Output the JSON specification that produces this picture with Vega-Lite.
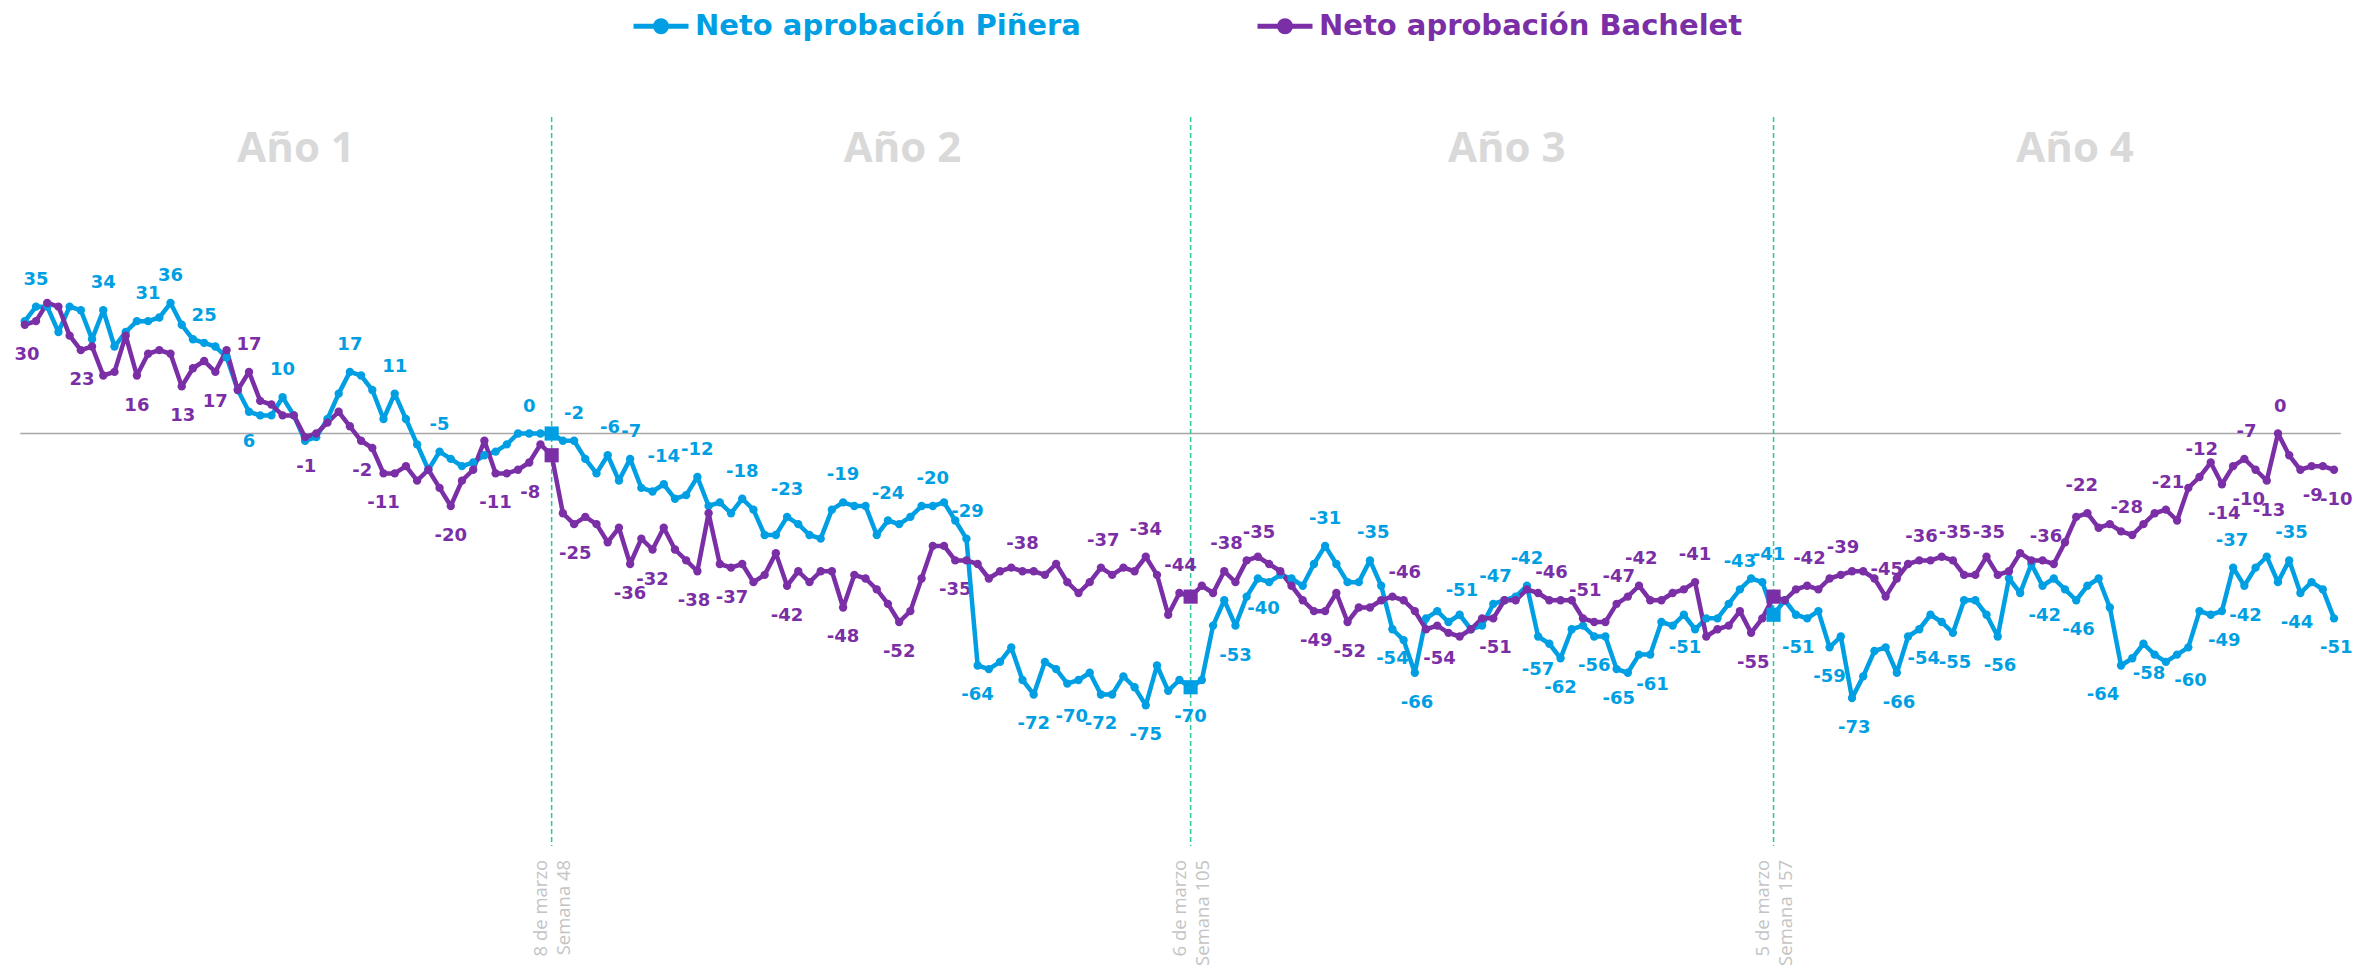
{
"$schema":"https://vega.github.io/schema/vega-lite/v6.json",
"width":2356,"height":973,"autosize":{"type":"none"},"padding":0,"background":"#ffffff",
"config":{"view":{"stroke":null}},
"datasets":{
"series":[
{"w":1,"Neto aprobación Piñera":31,"Neto aprobación Bachelet":30},{"w":2,"Neto aprobación Piñera":35,"Neto aprobación Bachelet":31},{"w":3,"Neto aprobación Piñera":35,"Neto aprobación Bachelet":36},{"w":4,"Neto aprobación Piñera":28,"Neto aprobación Bachelet":35},{"w":5,"Neto aprobación Piñera":35,"Neto aprobación Bachelet":27},{"w":6,"Neto aprobación Piñera":34,"Neto aprobación Bachelet":23},{"w":7,"Neto aprobación Piñera":26,"Neto aprobación Bachelet":24},{"w":8,"Neto aprobación Piñera":34,"Neto aprobación Bachelet":16},{"w":9,"Neto aprobación Piñera":24,"Neto aprobación Bachelet":17},{"w":10,"Neto aprobación Piñera":28,"Neto aprobación Bachelet":27},
{"w":11,"Neto aprobación Piñera":31,"Neto aprobación Bachelet":16},{"w":12,"Neto aprobación Piñera":31,"Neto aprobación Bachelet":22},{"w":13,"Neto aprobación Piñera":32,"Neto aprobación Bachelet":23},{"w":14,"Neto aprobación Piñera":36,"Neto aprobación Bachelet":22},{"w":15,"Neto aprobación Piñera":30,"Neto aprobación Bachelet":13},{"w":16,"Neto aprobación Piñera":26,"Neto aprobación Bachelet":18},{"w":17,"Neto aprobación Piñera":25,"Neto aprobación Bachelet":20},{"w":18,"Neto aprobación Piñera":24,"Neto aprobación Bachelet":17},{"w":19,"Neto aprobación Piñera":21,"Neto aprobación Bachelet":23},{"w":20,"Neto aprobación Piñera":12,"Neto aprobación Bachelet":12},
{"w":21,"Neto aprobación Piñera":6,"Neto aprobación Bachelet":17},{"w":22,"Neto aprobación Piñera":5,"Neto aprobación Bachelet":9},{"w":23,"Neto aprobación Piñera":5,"Neto aprobación Bachelet":8},{"w":24,"Neto aprobación Piñera":10,"Neto aprobación Bachelet":5},{"w":25,"Neto aprobación Piñera":5,"Neto aprobación Bachelet":5},{"w":26,"Neto aprobación Piñera":-2,"Neto aprobación Bachelet":-1},{"w":27,"Neto aprobación Piñera":-1,"Neto aprobación Bachelet":0},{"w":28,"Neto aprobación Piñera":4,"Neto aprobación Bachelet":3},{"w":29,"Neto aprobación Piñera":11,"Neto aprobación Bachelet":6},{"w":30,"Neto aprobación Piñera":17,"Neto aprobación Bachelet":2},
{"w":31,"Neto aprobación Piñera":16,"Neto aprobación Bachelet":-2},{"w":32,"Neto aprobación Piñera":12,"Neto aprobación Bachelet":-4},{"w":33,"Neto aprobación Piñera":4,"Neto aprobación Bachelet":-11},{"w":34,"Neto aprobación Piñera":11,"Neto aprobación Bachelet":-11},{"w":35,"Neto aprobación Piñera":4,"Neto aprobación Bachelet":-9},{"w":36,"Neto aprobación Piñera":-3,"Neto aprobación Bachelet":-13},{"w":37,"Neto aprobación Piñera":-10,"Neto aprobación Bachelet":-10},{"w":38,"Neto aprobación Piñera":-5,"Neto aprobación Bachelet":-15},{"w":39,"Neto aprobación Piñera":-7,"Neto aprobación Bachelet":-20},{"w":40,"Neto aprobación Piñera":-9,"Neto aprobación Bachelet":-13},
{"w":41,"Neto aprobación Piñera":-8,"Neto aprobación Bachelet":-10},{"w":42,"Neto aprobación Piñera":-6,"Neto aprobación Bachelet":-2},{"w":43,"Neto aprobación Piñera":-5,"Neto aprobación Bachelet":-11},{"w":44,"Neto aprobación Piñera":-3,"Neto aprobación Bachelet":-11},{"w":45,"Neto aprobación Piñera":0,"Neto aprobación Bachelet":-10},{"w":46,"Neto aprobación Piñera":0,"Neto aprobación Bachelet":-8},{"w":47,"Neto aprobación Piñera":0,"Neto aprobación Bachelet":-3},{"w":48,"Neto aprobación Piñera":0,"Neto aprobación Bachelet":-6},{"w":49,"Neto aprobación Piñera":-2,"Neto aprobación Bachelet":-22},{"w":50,"Neto aprobación Piñera":-2,"Neto aprobación Bachelet":-25},
{"w":51,"Neto aprobación Piñera":-7,"Neto aprobación Bachelet":-23},{"w":52,"Neto aprobación Piñera":-11,"Neto aprobación Bachelet":-25},{"w":53,"Neto aprobación Piñera":-6,"Neto aprobación Bachelet":-30},{"w":54,"Neto aprobación Piñera":-13,"Neto aprobación Bachelet":-26},{"w":55,"Neto aprobación Piñera":-7,"Neto aprobación Bachelet":-36},{"w":56,"Neto aprobación Piñera":-15,"Neto aprobación Bachelet":-29},{"w":57,"Neto aprobación Piñera":-16,"Neto aprobación Bachelet":-32},{"w":58,"Neto aprobación Piñera":-14,"Neto aprobación Bachelet":-26},{"w":59,"Neto aprobación Piñera":-18,"Neto aprobación Bachelet":-32},{"w":60,"Neto aprobación Piñera":-17,"Neto aprobación Bachelet":-35},
{"w":61,"Neto aprobación Piñera":-12,"Neto aprobación Bachelet":-38},{"w":62,"Neto aprobación Piñera":-20,"Neto aprobación Bachelet":-22},{"w":63,"Neto aprobación Piñera":-19,"Neto aprobación Bachelet":-36},{"w":64,"Neto aprobación Piñera":-22,"Neto aprobación Bachelet":-37},{"w":65,"Neto aprobación Piñera":-18,"Neto aprobación Bachelet":-36},{"w":66,"Neto aprobación Piñera":-21,"Neto aprobación Bachelet":-41},{"w":67,"Neto aprobación Piñera":-28,"Neto aprobación Bachelet":-39},{"w":68,"Neto aprobación Piñera":-28,"Neto aprobación Bachelet":-33},{"w":69,"Neto aprobación Piñera":-23,"Neto aprobación Bachelet":-42},{"w":70,"Neto aprobación Piñera":-25,"Neto aprobación Bachelet":-38},
{"w":71,"Neto aprobación Piñera":-28,"Neto aprobación Bachelet":-41},{"w":72,"Neto aprobación Piñera":-29,"Neto aprobación Bachelet":-38},{"w":73,"Neto aprobación Piñera":-21,"Neto aprobación Bachelet":-38},{"w":74,"Neto aprobación Piñera":-19,"Neto aprobación Bachelet":-48},{"w":75,"Neto aprobación Piñera":-20,"Neto aprobación Bachelet":-39},{"w":76,"Neto aprobación Piñera":-20,"Neto aprobación Bachelet":-40},{"w":77,"Neto aprobación Piñera":-28,"Neto aprobación Bachelet":-43},{"w":78,"Neto aprobación Piñera":-24,"Neto aprobación Bachelet":-47},{"w":79,"Neto aprobación Piñera":-25,"Neto aprobación Bachelet":-52},{"w":80,"Neto aprobación Piñera":-23,"Neto aprobación Bachelet":-49},
{"w":81,"Neto aprobación Piñera":-20,"Neto aprobación Bachelet":-40},{"w":82,"Neto aprobación Piñera":-20,"Neto aprobación Bachelet":-31},{"w":83,"Neto aprobación Piñera":-19,"Neto aprobación Bachelet":-31},{"w":84,"Neto aprobación Piñera":-24,"Neto aprobación Bachelet":-35},{"w":85,"Neto aprobación Piñera":-29,"Neto aprobación Bachelet":-35},{"w":86,"Neto aprobación Piñera":-64,"Neto aprobación Bachelet":-36},{"w":87,"Neto aprobación Piñera":-65,"Neto aprobación Bachelet":-40},{"w":88,"Neto aprobación Piñera":-63,"Neto aprobación Bachelet":-38},{"w":89,"Neto aprobación Piñera":-59,"Neto aprobación Bachelet":-37},{"w":90,"Neto aprobación Piñera":-68,"Neto aprobación Bachelet":-38},
{"w":91,"Neto aprobación Piñera":-72,"Neto aprobación Bachelet":-38},{"w":92,"Neto aprobación Piñera":-63,"Neto aprobación Bachelet":-39},{"w":93,"Neto aprobación Piñera":-65,"Neto aprobación Bachelet":-36},{"w":94,"Neto aprobación Piñera":-69,"Neto aprobación Bachelet":-41},{"w":95,"Neto aprobación Piñera":-68,"Neto aprobación Bachelet":-44},{"w":96,"Neto aprobación Piñera":-66,"Neto aprobación Bachelet":-41},{"w":97,"Neto aprobación Piñera":-72,"Neto aprobación Bachelet":-37},{"w":98,"Neto aprobación Piñera":-72,"Neto aprobación Bachelet":-39},{"w":99,"Neto aprobación Piñera":-67,"Neto aprobación Bachelet":-37},{"w":100,"Neto aprobación Piñera":-70,"Neto aprobación Bachelet":-38},
{"w":101,"Neto aprobación Piñera":-75,"Neto aprobación Bachelet":-34},{"w":102,"Neto aprobación Piñera":-64,"Neto aprobación Bachelet":-39},{"w":103,"Neto aprobación Piñera":-71,"Neto aprobación Bachelet":-50},{"w":104,"Neto aprobación Piñera":-68,"Neto aprobación Bachelet":-44},{"w":105,"Neto aprobación Piñera":-70,"Neto aprobación Bachelet":-45},{"w":106,"Neto aprobación Piñera":-68,"Neto aprobación Bachelet":-42},{"w":107,"Neto aprobación Piñera":-53,"Neto aprobación Bachelet":-44},{"w":108,"Neto aprobación Piñera":-46,"Neto aprobación Bachelet":-38},{"w":109,"Neto aprobación Piñera":-53,"Neto aprobación Bachelet":-41},{"w":110,"Neto aprobación Piñera":-45,"Neto aprobación Bachelet":-35},
{"w":111,"Neto aprobación Piñera":-40,"Neto aprobación Bachelet":-34},{"w":112,"Neto aprobación Piñera":-41,"Neto aprobación Bachelet":-36},{"w":113,"Neto aprobación Piñera":-39,"Neto aprobación Bachelet":-38},{"w":114,"Neto aprobación Piñera":-40,"Neto aprobación Bachelet":-42},{"w":115,"Neto aprobación Piñera":-42,"Neto aprobación Bachelet":-46},{"w":116,"Neto aprobación Piñera":-36,"Neto aprobación Bachelet":-49},{"w":117,"Neto aprobación Piñera":-31,"Neto aprobación Bachelet":-49},{"w":118,"Neto aprobación Piñera":-36,"Neto aprobación Bachelet":-44},{"w":119,"Neto aprobación Piñera":-41,"Neto aprobación Bachelet":-52},{"w":120,"Neto aprobación Piñera":-41,"Neto aprobación Bachelet":-48},
{"w":121,"Neto aprobación Piñera":-35,"Neto aprobación Bachelet":-48},{"w":122,"Neto aprobación Piñera":-42,"Neto aprobación Bachelet":-46},{"w":123,"Neto aprobación Piñera":-54,"Neto aprobación Bachelet":-45},{"w":124,"Neto aprobación Piñera":-57,"Neto aprobación Bachelet":-46},{"w":125,"Neto aprobación Piñera":-66,"Neto aprobación Bachelet":-49},{"w":126,"Neto aprobación Piñera":-51,"Neto aprobación Bachelet":-54},{"w":127,"Neto aprobación Piñera":-49,"Neto aprobación Bachelet":-53},{"w":128,"Neto aprobación Piñera":-52,"Neto aprobación Bachelet":-55},{"w":129,"Neto aprobación Piñera":-50,"Neto aprobación Bachelet":-56},{"w":130,"Neto aprobación Piñera":-54,"Neto aprobación Bachelet":-54},
{"w":131,"Neto aprobación Piñera":-53,"Neto aprobación Bachelet":-51},{"w":132,"Neto aprobación Piñera":-47,"Neto aprobación Bachelet":-51},{"w":133,"Neto aprobación Piñera":-46,"Neto aprobación Bachelet":-46},{"w":134,"Neto aprobación Piñera":-45,"Neto aprobación Bachelet":-46},{"w":135,"Neto aprobación Piñera":-42,"Neto aprobación Bachelet":-43},{"w":136,"Neto aprobación Piñera":-56,"Neto aprobación Bachelet":-44},{"w":137,"Neto aprobación Piñera":-58,"Neto aprobación Bachelet":-46},{"w":138,"Neto aprobación Piñera":-62,"Neto aprobación Bachelet":-46},{"w":139,"Neto aprobación Piñera":-54,"Neto aprobación Bachelet":-46},{"w":140,"Neto aprobación Piñera":-53,"Neto aprobación Bachelet":-51},
{"w":141,"Neto aprobación Piñera":-56,"Neto aprobación Bachelet":-52},{"w":142,"Neto aprobación Piñera":-56,"Neto aprobación Bachelet":-52},{"w":143,"Neto aprobación Piñera":-65,"Neto aprobación Bachelet":-47},{"w":144,"Neto aprobación Piñera":-66,"Neto aprobación Bachelet":-45},{"w":145,"Neto aprobación Piñera":-61,"Neto aprobación Bachelet":-42},{"w":146,"Neto aprobación Piñera":-61,"Neto aprobación Bachelet":-46},{"w":147,"Neto aprobación Piñera":-52,"Neto aprobación Bachelet":-46},{"w":148,"Neto aprobación Piñera":-53,"Neto aprobación Bachelet":-44},{"w":149,"Neto aprobación Piñera":-50,"Neto aprobación Bachelet":-43},{"w":150,"Neto aprobación Piñera":-54,"Neto aprobación Bachelet":-41},
{"w":151,"Neto aprobación Piñera":-51,"Neto aprobación Bachelet":-56},{"w":152,"Neto aprobación Piñera":-51,"Neto aprobación Bachelet":-54},{"w":153,"Neto aprobación Piñera":-47,"Neto aprobación Bachelet":-53},{"w":154,"Neto aprobación Piñera":-43,"Neto aprobación Bachelet":-49},{"w":155,"Neto aprobación Piñera":-40,"Neto aprobación Bachelet":-55},{"w":156,"Neto aprobación Piñera":-41,"Neto aprobación Bachelet":-51},{"w":157,"Neto aprobación Piñera":-50,"Neto aprobación Bachelet":-45},{"w":158,"Neto aprobación Piñera":-46,"Neto aprobación Bachelet":-46},{"w":159,"Neto aprobación Piñera":-50,"Neto aprobación Bachelet":-43},{"w":160,"Neto aprobación Piñera":-51,"Neto aprobación Bachelet":-42},
{"w":161,"Neto aprobación Piñera":-49,"Neto aprobación Bachelet":-43},{"w":162,"Neto aprobación Piñera":-59,"Neto aprobación Bachelet":-40},{"w":163,"Neto aprobación Piñera":-56,"Neto aprobación Bachelet":-39},{"w":164,"Neto aprobación Piñera":-73,"Neto aprobación Bachelet":-38},{"w":165,"Neto aprobación Piñera":-67,"Neto aprobación Bachelet":-38},{"w":166,"Neto aprobación Piñera":-60,"Neto aprobación Bachelet":-40},{"w":167,"Neto aprobación Piñera":-59,"Neto aprobación Bachelet":-45},{"w":168,"Neto aprobación Piñera":-66,"Neto aprobación Bachelet":-40},{"w":169,"Neto aprobación Piñera":-56,"Neto aprobación Bachelet":-36},{"w":170,"Neto aprobación Piñera":-54,"Neto aprobación Bachelet":-35},
{"w":171,"Neto aprobación Piñera":-50,"Neto aprobación Bachelet":-35},{"w":172,"Neto aprobación Piñera":-52,"Neto aprobación Bachelet":-34},{"w":173,"Neto aprobación Piñera":-55,"Neto aprobación Bachelet":-35},{"w":174,"Neto aprobación Piñera":-46,"Neto aprobación Bachelet":-39},{"w":175,"Neto aprobación Piñera":-46,"Neto aprobación Bachelet":-39},{"w":176,"Neto aprobación Piñera":-50,"Neto aprobación Bachelet":-34},{"w":177,"Neto aprobación Piñera":-56,"Neto aprobación Bachelet":-39},{"w":178,"Neto aprobación Piñera":-40,"Neto aprobación Bachelet":-38},{"w":179,"Neto aprobación Piñera":-44,"Neto aprobación Bachelet":-33},{"w":180,"Neto aprobación Piñera":-36,"Neto aprobación Bachelet":-35},
{"w":181,"Neto aprobación Piñera":-42,"Neto aprobación Bachelet":-35},{"w":182,"Neto aprobación Piñera":-40,"Neto aprobación Bachelet":-36},{"w":183,"Neto aprobación Piñera":-43,"Neto aprobación Bachelet":-30},{"w":184,"Neto aprobación Piñera":-46,"Neto aprobación Bachelet":-23},{"w":185,"Neto aprobación Piñera":-42,"Neto aprobación Bachelet":-22},{"w":186,"Neto aprobación Piñera":-40,"Neto aprobación Bachelet":-26},{"w":187,"Neto aprobación Piñera":-48,"Neto aprobación Bachelet":-25},{"w":188,"Neto aprobación Piñera":-64,"Neto aprobación Bachelet":-27},{"w":189,"Neto aprobación Piñera":-62,"Neto aprobación Bachelet":-28},{"w":190,"Neto aprobación Piñera":-58,"Neto aprobación Bachelet":-25},
{"w":191,"Neto aprobación Piñera":-61,"Neto aprobación Bachelet":-22},{"w":192,"Neto aprobación Piñera":-63,"Neto aprobación Bachelet":-21},{"w":193,"Neto aprobación Piñera":-61,"Neto aprobación Bachelet":-24},{"w":194,"Neto aprobación Piñera":-59,"Neto aprobación Bachelet":-15},{"w":195,"Neto aprobación Piñera":-49,"Neto aprobación Bachelet":-12},{"w":196,"Neto aprobación Piñera":-50,"Neto aprobación Bachelet":-8},{"w":197,"Neto aprobación Piñera":-49,"Neto aprobación Bachelet":-14},{"w":198,"Neto aprobación Piñera":-37,"Neto aprobación Bachelet":-9},{"w":199,"Neto aprobación Piñera":-42,"Neto aprobación Bachelet":-7},{"w":200,"Neto aprobación Piñera":-37,"Neto aprobación Bachelet":-10},
{"w":201,"Neto aprobación Piñera":-34,"Neto aprobación Bachelet":-13},{"w":202,"Neto aprobación Piñera":-41,"Neto aprobación Bachelet":0},{"w":203,"Neto aprobación Piñera":-35,"Neto aprobación Bachelet":-6},{"w":204,"Neto aprobación Piñera":-44,"Neto aprobación Bachelet":-10},{"w":205,"Neto aprobación Piñera":-41,"Neto aprobación Bachelet":-9},{"w":206,"Neto aprobación Piñera":-43,"Neto aprobación Bachelet":-9},{"w":207,"Neto aprobación Piñera":-51,"Neto aprobación Bachelet":-10}
],
"labels":[
{"s":"Neto aprobación Piñera","w":2,"v":35,"p":"a"},{"s":"Neto aprobación Piñera","w":8,"v":34,"p":"a"},{"s":"Neto aprobación Piñera","w":12,"v":31,"p":"a"},{"s":"Neto aprobación Piñera","w":14,"v":36,"p":"a"},{"s":"Neto aprobación Piñera","w":17,"v":25,"p":"a"},{"s":"Neto aprobación Piñera","w":21,"v":6,"p":"b"},{"s":"Neto aprobación Piñera","w":24,"v":10,"p":"a"},{"s":"Neto aprobación Piñera","w":30,"v":17,"p":"a"},{"s":"Neto aprobación Piñera","w":34,"v":11,"p":"a"},{"s":"Neto aprobación Piñera","w":38,"v":-5,"p":"a"},{"s":"Neto aprobación Piñera","w":46,"v":0,"p":"a"},{"s":"Neto aprobación Piñera","w":50,"v":-2,"p":"a"},{"s":"Neto aprobación Piñera","w":53.2,"v":-6,"p":"a"},{"s":"Neto aprobación Piñera","w":55.1,"v":-7,"p":"a"},{"s":"Neto aprobación Piñera","w":58,"v":-14,"p":"a"},{"s":"Neto aprobación Piñera","w":61,"v":-12,"p":"a"},{"s":"Neto aprobación Piñera","w":65,"v":-18,"p":"a"},{"s":"Neto aprobación Piñera","w":69,"v":-23,"p":"a"},{"s":"Neto aprobación Piñera","w":74,"v":-19,"p":"a"},{"s":"Neto aprobación Piñera","w":78,"v":-24,"p":"a"},{"s":"Neto aprobación Piñera","w":82,"v":-20,"p":"a"},{"s":"Neto aprobación Piñera","w":85.1,"v":-29,"p":"a"},{"s":"Neto aprobación Piñera","w":86,"v":-64,"p":"b"},{"s":"Neto aprobación Piñera","w":91,"v":-72,"p":"b"},{"s":"Neto aprobación Piñera","w":94.4,"v":-70,"p":"b"},{"s":"Neto aprobación Piñera","w":97,"v":-72,"p":"b"},{"s":"Neto aprobación Piñera","w":101,"v":-75,"p":"b"},{"s":"Neto aprobación Piñera","w":105,"v":-70,"p":"b"},{"s":"Neto aprobación Piñera","w":109,"v":-53,"p":"b"},{"s":"Neto aprobación Piñera","w":111.5,"v":-40,"p":"b"},{"s":"Neto aprobación Piñera","w":117,"v":-31,"p":"a"},{"s":"Neto aprobación Piñera","w":121.3,"v":-35,"p":"a"},{"s":"Neto aprobación Piñera","w":123,"v":-54,"p":"b"},{"s":"Neto aprobación Piñera","w":125.2,"v":-66,"p":"b"},{"s":"Neto aprobación Piñera","w":129.2,"v":-51,"p":"a"},{"s":"Neto aprobación Piñera","w":132.2,"v":-47,"p":"a"},{"s":"Neto aprobación Piñera","w":135,"v":-42,"p":"a"},{"s":"Neto aprobación Piñera","w":136,"v":-57,"p":"b"},{"s":"Neto aprobación Piñera","w":138,"v":-62,"p":"b"},{"s":"Neto aprobación Piñera","w":141,"v":-56,"p":"b"},{"s":"Neto aprobación Piñera","w":143.2,"v":-65,"p":"b"},{"s":"Neto aprobación Piñera","w":146.2,"v":-61,"p":"b"},{"s":"Neto aprobación Piñera","w":149.1,"v":-51,"p":"b"},{"s":"Neto aprobación Piñera","w":154,"v":-43,"p":"a"},{"s":"Neto aprobación Piñera","w":156.6,"v":-41,"p":"a"},{"s":"Neto aprobación Piñera","w":159.2,"v":-51,"p":"b"},{"s":"Neto aprobación Piñera","w":162,"v":-59,"p":"b"},{"s":"Neto aprobación Piñera","w":164.2,"v":-73,"p":"b"},{"s":"Neto aprobación Piñera","w":168.2,"v":-66,"p":"b"},{"s":"Neto aprobación Piñera","w":170.4,"v":-54,"p":"b"},{"s":"Neto aprobación Piñera","w":173.2,"v":-55,"p":"b"},{"s":"Neto aprobación Piñera","w":177.2,"v":-56,"p":"b"},{"s":"Neto aprobación Piñera","w":181.2,"v":-42,"p":"b"},{"s":"Neto aprobación Piñera","w":184.2,"v":-46,"p":"b"},{"s":"Neto aprobación Piñera","w":186.4,"v":-64,"p":"b"},{"s":"Neto aprobación Piñera","w":190.5,"v":-58,"p":"b"},{"s":"Neto aprobación Piñera","w":194.2,"v":-60,"p":"b"},{"s":"Neto aprobación Piñera","w":197.2,"v":-49,"p":"b"},{"s":"Neto aprobación Piñera","w":197.9,"v":-37,"p":"a"},{"s":"Neto aprobación Piñera","w":199.1,"v":-42,"p":"b"},{"s":"Neto aprobación Piñera","w":203.2,"v":-35,"p":"a"},{"s":"Neto aprobación Piñera","w":203.7,"v":-44,"p":"b"},{"s":"Neto aprobación Piñera","w":207.2,"v":-51,"p":"b"},
{"s":"Neto aprobación Bachelet","w":1.2,"v":30,"p":"b"},{"s":"Neto aprobación Bachelet","w":6.1,"v":23,"p":"b"},{"s":"Neto aprobación Bachelet","w":11,"v":16,"p":"b"},{"s":"Neto aprobación Bachelet","w":15.1,"v":13,"p":"b"},{"s":"Neto aprobación Bachelet","w":18,"v":17,"p":"b"},{"s":"Neto aprobación Bachelet","w":21,"v":17,"p":"a"},{"s":"Neto aprobación Bachelet","w":26.1,"v":-1,"p":"b"},{"s":"Neto aprobación Bachelet","w":31.1,"v":-2,"p":"b"},{"s":"Neto aprobación Bachelet","w":33,"v":-11,"p":"b"},{"s":"Neto aprobación Bachelet","w":39,"v":-20,"p":"b"},{"s":"Neto aprobación Bachelet","w":43,"v":-11,"p":"b"},{"s":"Neto aprobación Bachelet","w":46.1,"v":-8,"p":"b"},{"s":"Neto aprobación Bachelet","w":50.1,"v":-25,"p":"b"},{"s":"Neto aprobación Bachelet","w":55,"v":-36,"p":"b"},{"s":"Neto aprobación Bachelet","w":57,"v":-32,"p":"b"},{"s":"Neto aprobación Bachelet","w":60.7,"v":-38,"p":"b"},{"s":"Neto aprobación Bachelet","w":64.1,"v":-37,"p":"b"},{"s":"Neto aprobación Bachelet","w":69,"v":-42,"p":"b"},{"s":"Neto aprobación Bachelet","w":74,"v":-48,"p":"b"},{"s":"Neto aprobación Bachelet","w":79,"v":-52,"p":"b"},{"s":"Neto aprobación Bachelet","w":84,"v":-35,"p":"b"},{"s":"Neto aprobación Bachelet","w":90,"v":-38,"p":"a"},{"s":"Neto aprobación Bachelet","w":97.2,"v":-37,"p":"a"},{"s":"Neto aprobación Bachelet","w":101,"v":-34,"p":"a"},{"s":"Neto aprobación Bachelet","w":104.1,"v":-44,"p":"a"},{"s":"Neto aprobación Bachelet","w":108.2,"v":-38,"p":"a"},{"s":"Neto aprobación Bachelet","w":111.1,"v":-35,"p":"a"},{"s":"Neto aprobación Bachelet","w":116.2,"v":-49,"p":"b"},{"s":"Neto aprobación Bachelet","w":119.2,"v":-52,"p":"b"},{"s":"Neto aprobación Bachelet","w":124.1,"v":-46,"p":"a"},{"s":"Neto aprobación Bachelet","w":127.2,"v":-54,"p":"b"},{"s":"Neto aprobación Bachelet","w":132.2,"v":-51,"p":"b"},{"s":"Neto aprobación Bachelet","w":137.2,"v":-46,"p":"a"},{"s":"Neto aprobación Bachelet","w":140.2,"v":-51,"p":"a"},{"s":"Neto aprobación Bachelet","w":143.2,"v":-47,"p":"a"},{"s":"Neto aprobación Bachelet","w":145.2,"v":-42,"p":"a"},{"s":"Neto aprobación Bachelet","w":150,"v":-41,"p":"a"},{"s":"Neto aprobación Bachelet","w":155.2,"v":-55,"p":"b"},{"s":"Neto aprobación Bachelet","w":160.2,"v":-42,"p":"a"},{"s":"Neto aprobación Bachelet","w":163.2,"v":-39,"p":"a"},{"s":"Neto aprobación Bachelet","w":167.1,"v":-45,"p":"a"},{"s":"Neto aprobación Bachelet","w":170.2,"v":-36,"p":"a"},{"s":"Neto aprobación Bachelet","w":173.2,"v":-35,"p":"a"},{"s":"Neto aprobación Bachelet","w":176.2,"v":-35,"p":"a"},{"s":"Neto aprobación Bachelet","w":181.3,"v":-36,"p":"a"},{"s":"Neto aprobación Bachelet","w":184.5,"v":-22,"p":"a"},{"s":"Neto aprobación Bachelet","w":188.5,"v":-28,"p":"a"},{"s":"Neto aprobación Bachelet","w":192.2,"v":-21,"p":"a"},{"s":"Neto aprobación Bachelet","w":195.2,"v":-12,"p":"a"},{"s":"Neto aprobación Bachelet","w":197.2,"v":-14,"p":"b"},{"s":"Neto aprobación Bachelet","w":199.2,"v":-7,"p":"a"},{"s":"Neto aprobación Bachelet","w":199.4,"v":-10,"p":"b"},{"s":"Neto aprobación Bachelet","w":201.2,"v":-13,"p":"b"},{"s":"Neto aprobación Bachelet","w":202.2,"v":0,"p":"a"},{"s":"Neto aprobación Bachelet","w":205.1,"v":-9,"p":"b"},{"s":"Neto aprobación Bachelet","w":207.2,"v":-10,"p":"b"}
],
"years":[{"w":25.2,"t":"Año 1"},{"w":79.3,"t":"Año 2"},{"w":133.2,"t":"Año 3"},{"w":183.9,"t":"Año 4"}],
"events":[{"w":48,"t":"8 de marzo\nSemana 48"},{"w":105,"t":"6 de marzo\nSemana 105"},{"w":157,"t":"5 de marzo\nSemana 157"}]
},
"layer":[
{"data":{"values":[{"a":0.6,"b":207.6,"z":0}]},"mark":{"type":"rule","color":"#a6a6a6","strokeWidth":1.5},"encoding":{
"x":{"field":"a","type":"quantitative","scale":{"domain":[-1.212,208.96],"nice":false,"zero":false},"axis":null},
"x2":{"field":"b"},
"y":{"field":"z","type":"quantitative","scale":{"domain":[-148.83,119.59],"nice":false,"zero":false},"axis":null}}},
{"data":{"name":"events"},"mark":{"type":"rule","color":"#2cc79c","strokeWidth":1.5,"strokeDash":[5,3]},"encoding":{
"x":{"field":"w","type":"quantitative","scale":{"domain":[-1.212,208.96],"nice":false,"zero":false},"axis":null},
"y":{"datum":87.3,"type":"quantitative","scale":{"domain":[-148.83,119.59],"nice":false,"zero":false},"axis":null},
"y2":{"datum":-113.8}}},
{"data":{"name":"events"},"mark":{"type":"text","angle":270,"align":"right","baseline":"middle","lineBreak":"\n","lineHeight":23,"dy":-11,"font":"Open Sans","fontWeight":"normal","fontSize":18.5,"color":"#c4c4c4"},"encoding":{
"x":{"field":"w","type":"quantitative","scale":{"domain":[-1.212,208.96],"nice":false,"zero":false},"axis":null},
"y":{"datum":-117.6,"type":"quantitative","scale":{"domain":[-148.83,119.59],"nice":false,"zero":false},"axis":null},
"text":{"field":"t","type":"nominal"}}},
{"data":{"name":"years"},"mark":{"type":"text","align":"center","baseline":"middle","font":"Open Sans","fontWeight":"bold","fontSize":42,"color":"#d9d9d9"},"encoding":{
"x":{"field":"w","type":"quantitative","scale":{"domain":[-1.212,208.96],"nice":false,"zero":false},"axis":null},
"y":{"datum":78.5,"type":"quantitative","scale":{"domain":[-148.83,119.59],"nice":false,"zero":false},"axis":null},
"text":{"field":"t","type":"nominal"}}},
{"data":{"name":"labels"},"transform":[{"filter":"datum.p=='a'"}],"mark":{"type":"text","align":"center","baseline":"middle","dy":-27,"font":"DejaVu Sans","fontWeight":"bold","fontSize":18},"encoding":{
"x":{"field":"w","type":"quantitative","scale":{"domain":[-1.212,208.96],"nice":false,"zero":false},"axis":null},
"y":{"field":"v","type":"quantitative","scale":{"domain":[-148.83,119.59],"nice":false,"zero":false},"axis":null},
"text":{"field":"v","type":"nominal"},"color":{"field":"s","type":"nominal"}}},
{"data":{"name":"labels"},"transform":[{"filter":"datum.p=='b'"}],"mark":{"type":"text","align":"center","baseline":"middle","dy":30,"font":"DejaVu Sans","fontWeight":"bold","fontSize":18},"encoding":{
"x":{"field":"w","type":"quantitative","scale":{"domain":[-1.212,208.96],"nice":false,"zero":false},"axis":null},
"y":{"field":"v","type":"quantitative","scale":{"domain":[-148.83,119.59],"nice":false,"zero":false},"axis":null},
"text":{"field":"v","type":"nominal"},"color":{"field":"s","type":"nominal"}}},
{"data":{"name":"series"},"transform":[{"fold":["Neto aprobación Piñera","Neto aprobación Bachelet"],"as":["s","v"]}],"mark":{"type":"line","strokeWidth":4.5,"strokeJoin":"round","strokeCap":"round"},"encoding":{
"x":{"field":"w","type":"quantitative","scale":{"domain":[-1.212,208.96],"nice":false,"zero":false},"axis":null},
"y":{"field":"v","type":"quantitative","scale":{"domain":[-148.83,119.59],"nice":false,"zero":false},"axis":null},
"color":{"field":"s","type":"nominal","scale":{"domain":["Neto aprobación Piñera","Neto aprobación Bachelet"],"range":["#009fe3","#7b2fa6"]},"legend":{"orient":"none","legendX":631,"legendY":-4,"direction":"horizontal","title":null,"symbolType":"M-1,0L1,0M0.2,0A0.2,0.2,0,1,1,-0.2,0A0.2,0.2,0,1,1,0.2,0Z","symbolSize":3025,"symbolStrokeWidth":5,"labelFont":"DejaVu Sans","labelFontSize":29,"labelFontWeight":"bold","labelOffset":4,"labelLimit":800,"columnPadding":166,"encode":{"labels":{"update":{"fill":{"scale":"color","field":"value"}}},"symbols":{"update":{"fill":{"scale":"color","field":"value"},"stroke":{"scale":"color","field":"value"},"fillOpacity":{"value":1},"strokeWidth":{"value":5}}}}}}}},
{"data":{"name":"series"},"transform":[{"fold":["Neto aprobación Piñera","Neto aprobación Bachelet"],"as":["s","v"]},{"filter":{"not":{"field":"w","oneOf":[48,105,157]}}}],"mark":{"type":"circle","size":70,"opacity":1},"encoding":{
"x":{"field":"w","type":"quantitative","scale":{"domain":[-1.212,208.96],"nice":false,"zero":false},"axis":null},
"y":{"field":"v","type":"quantitative","scale":{"domain":[-148.83,119.59],"nice":false,"zero":false},"axis":null},
"color":{"field":"s","type":"nominal"}}},
{"data":{"name":"series"},"transform":[{"fold":["Neto aprobación Piñera","Neto aprobación Bachelet"],"as":["s","v"]},{"filter":{"field":"w","oneOf":[48,105,157]}}],"mark":{"type":"square","size":200,"opacity":1},"encoding":{
"x":{"field":"w","type":"quantitative","scale":{"domain":[-1.212,208.96],"nice":false,"zero":false},"axis":null},
"y":{"field":"v","type":"quantitative","scale":{"domain":[-148.83,119.59],"nice":false,"zero":false},"axis":null},
"color":{"field":"s","type":"nominal"}}}
]
}
